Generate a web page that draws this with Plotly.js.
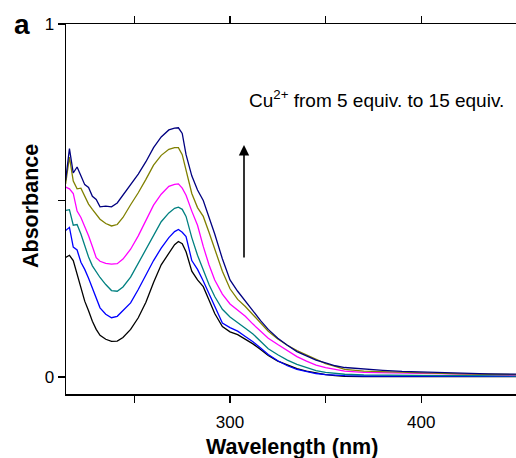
<!DOCTYPE html>
<html>
<head>
<meta charset="utf-8">
<script src="https://cdn.plot.ly/plotly-3.0.1.min.js"></script>
<style>html,body{margin:0;padding:0;background:#fff;}#chart{width:516px;height:458px;}</style>
</head>
<body>
<div id="chart"></div>
<script>
var wavelength = [214,216,218,220,222,224,226,228,230,232,235,238,241,244,248,252,256,260,264,268,271,273,275,277,280,283,286,289,292,296,300,304,308,312,316,320,325,330,335,340,345,350,355,360,370,380,390,400,410,420,435,450];

var absNavy = [0.557,0.647,0.578,0.595,0.570,0.545,0.537,0.512,0.503,0.482,0.484,0.482,0.493,0.515,0.545,0.575,0.610,0.650,0.680,0.700,0.705,0.706,0.690,0.630,0.570,0.530,0.500,0.455,0.405,0.335,0.275,0.243,0.215,0.188,0.160,0.135,0.110,0.090,0.072,0.060,0.048,0.040,0.032,0.027,0.022,0.019,0.016,0.014,0.012,0.011,0.009,0.008];
var absOlive = [0.547,0.623,0.555,0.533,0.535,0.514,0.490,0.475,0.462,0.447,0.435,0.428,0.432,0.452,0.488,0.522,0.560,0.600,0.628,0.645,0.650,0.650,0.630,0.585,0.520,0.480,0.455,0.410,0.360,0.300,0.250,0.220,0.200,0.176,0.155,0.130,0.108,0.090,0.075,0.063,0.050,0.038,0.030,0.022,0.017,0.015,0.013,0.012,0.010,0.009,0.008,0.007];
var absMagenta = [0.538,0.533,0.520,0.470,0.452,0.428,0.400,0.370,0.338,0.328,0.322,0.320,0.321,0.334,0.362,0.400,0.445,0.487,0.518,0.540,0.546,0.547,0.535,0.515,0.470,0.430,0.370,0.318,0.275,0.235,0.207,0.190,0.172,0.150,0.130,0.110,0.092,0.074,0.058,0.045,0.034,0.027,0.021,0.017,0.013,0.012,0.011,0.010,0.009,0.008,0.007,0.006];
var absTeal = [0.472,0.474,0.430,0.432,0.405,0.370,0.340,0.315,0.298,0.282,0.262,0.245,0.243,0.255,0.283,0.322,0.362,0.402,0.440,0.465,0.478,0.481,0.475,0.455,0.395,0.345,0.303,0.262,0.228,0.192,0.170,0.155,0.138,0.122,0.100,0.080,0.063,0.048,0.036,0.026,0.018,0.013,0.010,0.008,0.006,0.005,0.005,0.004,0.004,0.004,0.003,0.003];
var absBlue = [0.415,0.424,0.368,0.360,0.325,0.305,0.280,0.250,0.220,0.196,0.178,0.168,0.172,0.188,0.210,0.248,0.290,0.330,0.365,0.395,0.412,0.418,0.410,0.398,0.330,0.305,0.272,0.235,0.198,0.153,0.140,0.130,0.115,0.100,0.082,0.064,0.046,0.032,0.022,0.015,0.010,0.007,0.005,0.004,0.003,0.003,0.002,0.002,0.002,0.002,0.002,0.002];
var absBlack = [0.339,0.345,0.330,0.290,0.250,0.215,0.188,0.158,0.135,0.118,0.107,0.101,0.102,0.112,0.135,0.168,0.212,0.268,0.318,0.352,0.375,0.384,0.378,0.355,0.300,0.275,0.256,0.218,0.180,0.143,0.128,0.120,0.108,0.094,0.078,0.061,0.045,0.034,0.024,0.017,0.011,0.007,0.004,0.002,0.001,0.001,0.001,0.001,0.001,0.001,0.001,0.001];

var xTickVals = [250,300,350,400,450];
var xTickText = ['','300','','400',''];
var yTickVals = [0,0.5,1];
var yTickText = ['0','','1'];

var series = [
  {y: absBlack, c: '#000000'},
  {y: absBlue, c: '#0000ff'},
  {y: absTeal, c: '#008080'},
  {y: absMagenta, c: '#ff00ff'},
  {y: absOlive, c: '#808000'},
  {y: absNavy, c: '#000080'}
];
var traces = series.map(function(s){
  return {x: wavelength, y: s.y, type: 'scatter', mode: 'lines',
          line: {color: s.c, width: 1.3}, hoverinfo: 'skip'};
});

var F = 'Arial, "Liberation Sans", sans-serif';
var T = 24, B = 394, L = 66, R = 516;
var H = B - T, W = R - L;
var layout = {
  width: 516, height: 458,
  margin: {l: L, r: 516 - R, t: T, b: 458 - B, pad: 0},
  paper_bgcolor: '#fff', plot_bgcolor: '#fff',
  showlegend: false,
  font: {family: F, color: '#000', size: 17},
  xaxis: {
    range: [214.2, 449.6], showgrid: false, zeroline: false,
    showline: true, linecolor: '#000', linewidth: 1.5, mirror: 'ticks',
    ticks: 'outside', ticklen: 7, tickwidth: 1.2, tickcolor: '#000',
    tickvals: xTickVals, ticktext: xTickText, ticklabelstandoff: 5,
    tickfont: {family: F, size: 17, color: '#000'}
  },
  yaxis: {
    range: [-0.048, 1.0], showgrid: false, zeroline: false,
    showline: true, linecolor: '#000', linewidth: 1.5,
    ticks: 'outside', ticklen: 7, tickwidth: 1.2, tickcolor: '#000',
    tickvals: yTickVals, ticktext: yTickText,
    tickfont: {family: F, size: 17, color: '#000'}
  },
  annotations: [
    {xref: 'paper', yref: 'paper', x: (292 - L)/W, y: (B - 447)/H, xanchor: 'center', yanchor: 'middle',
     text: '<b>Wavelength (nm)</b>', showarrow: false, font: {family: F, size: 21.5, color: '#000'}},
    {xref: 'paper', yref: 'paper', x: (31 - L)/W, y: (B - 206)/H, xanchor: 'center', yanchor: 'middle',
     textangle: -90, text: '<b>Absorbance</b>', showarrow: false, font: {family: F, size: 21.5, color: '#000'}},
    {xref: 'paper', yref: 'paper', x: (247 - L)/W, y: (B - 99)/H, xanchor: 'left', yanchor: 'middle',
     text: 'Cu<sup>2+</sup> from 5 equiv. to 15 equiv.', showarrow: false,
     font: {family: F, size: 19, color: '#000'}},
    {xref: 'paper', yref: 'paper', x: (244 - L)/W, y: (B - 145)/H, text: '', showarrow: true,
     ax: 0, ay: 114, arrowhead: 2, arrowsize: 1.3, arrowwidth: 1.6, arrowcolor: '#000'},
    {xref: 'paper', yref: 'paper', x: (12 - L)/W, y: (B - 24)/H, xanchor: 'left', yanchor: 'middle',
     text: '<b>a</b>', showarrow: false, font: {family: F, size: 28, color: '#000'}}
  ]
};
Plotly.newPlot('chart', traces, layout, {staticPlot: true, displayModeBar: false});
</script>
</body>
</html>
